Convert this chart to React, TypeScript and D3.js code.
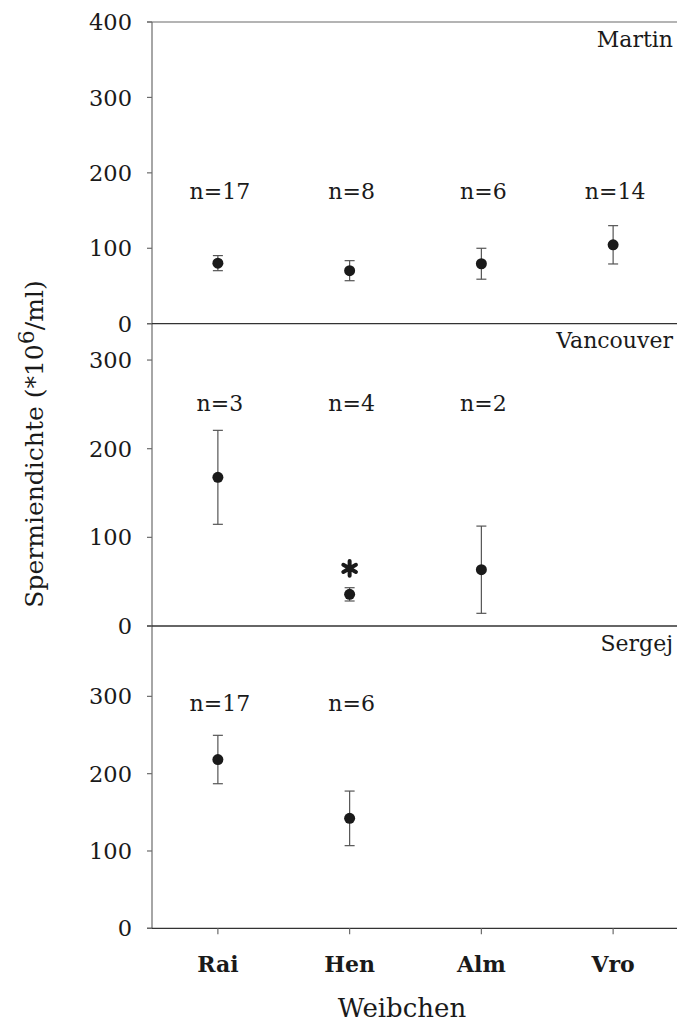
import React from "react";
import * as d3 from "d3";

const categories = ["Rai", "Hen", "Alm", "Vro"];
const panelNames = ["Martin", "Vancouver", "Sergej"];
const panelMax = [400, 341, 391];
const panelTicks = [[0, 100, 200, 300, 400], [0, 100, 200, 300], [0, 100, 200, 300]];

const martinMean = [80.3, 70.3, 79.5, 104.6];
const martinErr = [10, 13.3, 20.5, 25.4];
const martinN = [17, 8, 6, 14];

const vancouverMean = [167.7, 35.7, 63.5];
const vancouverErr = [53, 7.5, 49.2];
const vancouverN = [3, 4, 2];

const sergejMean = [218.3, 142.2];
const sergejErr = [31.3, 35.3];
const sergejN = [17, 6];

const nLabelValue = [165, 242.8, 281.5];
const significant = { panel: 1, category: "Hen", value: 65 };

const W = 677;
const H = 1023;
const axisX = 152;
const panelRanges: [number, number][] = [
  [323.7, 22],
  [626, 323.7],
  [928.3, 626],
];

const FONT = "'DejaVu Serif', serif";

export default function App() {
  const x = d3.scaleBand<string>().domain(categories).range([axisX, 679]);
  const cx = (c: string) => (x(c) as number) + x.bandwidth() / 2;

  const series = [
    { mean: martinMean, err: martinErr, n: martinN },
    { mean: vancouverMean, err: vancouverErr, n: vancouverN },
    { mean: sergejMean, err: sergejErr, n: sergejN },
  ];

  const ys = panelRanges.map((r, i) => d3.scaleLinear().domain([0, panelMax[i]]).range(r));
  const axisGray = "#6b6b6b";
  const ink = "#1a1a1a";

  const starPath = d3.symbol().type(d3.symbolAsterisk).size(150)() as string;

  return (
    <svg
      width={W}
      height={H}
      style={{ position: "absolute", left: 0, top: 0, background: "#fff" }}
      fontFamily={FONT}
    >
      <rect x={0} y={0} width={W} height={H} fill="#fff" />
      {/* left axis */}
      <line x1={axisX} x2={axisX} y1={ys[0](panelMax[0])} y2={ys[2](0)} stroke={axisGray} strokeWidth={1.2} />
      {/* top frame line */}
      <line x1={axisX - 5} x2={W} y1={ys[0](panelMax[0])} y2={ys[0](panelMax[0])} stroke={axisGray} strokeWidth={1.2} />
      {ys.map((y, pi) => (
        <g key={pi}>
          {/* zero line */}
          <line x1={axisX - 5} x2={W} y1={y(0)} y2={y(0)} stroke="#333" strokeWidth={1.3} />
          {panelTicks[pi].map((t) => (
            <g key={t}>
              <line x1={axisX - 5} x2={axisX} y1={y(t)} y2={y(t)} stroke={axisGray} strokeWidth={1.2} />
              <text x={132} y={y(t)} dy="0.36em" textAnchor="end" fontSize={22.5} fill={ink}>
                {t}
              </text>
            </g>
          ))}
          <text x={673} y={y(panelMax[pi]) + 24.5} textAnchor="end" fontSize={22} fill={ink}>
            {panelNames[pi]}
          </text>
          {series[pi].mean.map((m, i) => {
            const c = categories[i];
            const e = series[pi].err[i];
            const px = cx(c);
            return (
              <g key={c}>
                <line x1={px} x2={px} y1={y(m + e)} y2={y(m - e)} stroke="#555" strokeWidth={1.2} />
                <line x1={px - 5} x2={px + 5} y1={y(m + e)} y2={y(m + e)} stroke="#555" strokeWidth={1.2} />
                <line x1={px - 5} x2={px + 5} y1={y(m - e)} y2={y(m - e)} stroke="#555" strokeWidth={1.2} />
                <circle cx={px} cy={y(m)} r={5.5} fill={ink} />
                <text x={px + 2} y={y(nLabelValue[pi])} textAnchor="middle" fontSize={22} fill={ink}>
                  {`n=${series[pi].n[i]}`}
                </text>
              </g>
            );
          })}
        </g>
      ))}
      {/* significance asterisk */}
      <path
        d={starPath}
        transform={`translate(${cx(significant.category)},${ys[significant.panel](significant.value)})`}
        fill="none"
        stroke={ink}
        strokeWidth={4}
        strokeLinecap="round"
      />
      {/* bottom category ticks and labels */}
      {categories.map((c) => (
        <g key={c}>
          <line x1={cx(c)} x2={cx(c)} y1={ys[2](0)} y2={ys[2](0) + 6} stroke={axisGray} strokeWidth={1.2} />
          <text x={cx(c)} y={972} textAnchor="middle" fontSize={22} fontWeight="bold" fill={ink}>
            {c}
          </text>
        </g>
      ))}
      <text x={402} y={1017} textAnchor="middle" fontSize={26} fill={ink}>
        Weibchen
      </text>
      <text transform="translate(43,444) rotate(-90)" textAnchor="middle" fontSize={25} fill={ink}>
        Spermiendichte (*10
        <tspan dy={-9} fontSize={22}>6</tspan>
        <tspan dy={9}>/ml)</tspan>
      </text>
    </svg>
  );
}
